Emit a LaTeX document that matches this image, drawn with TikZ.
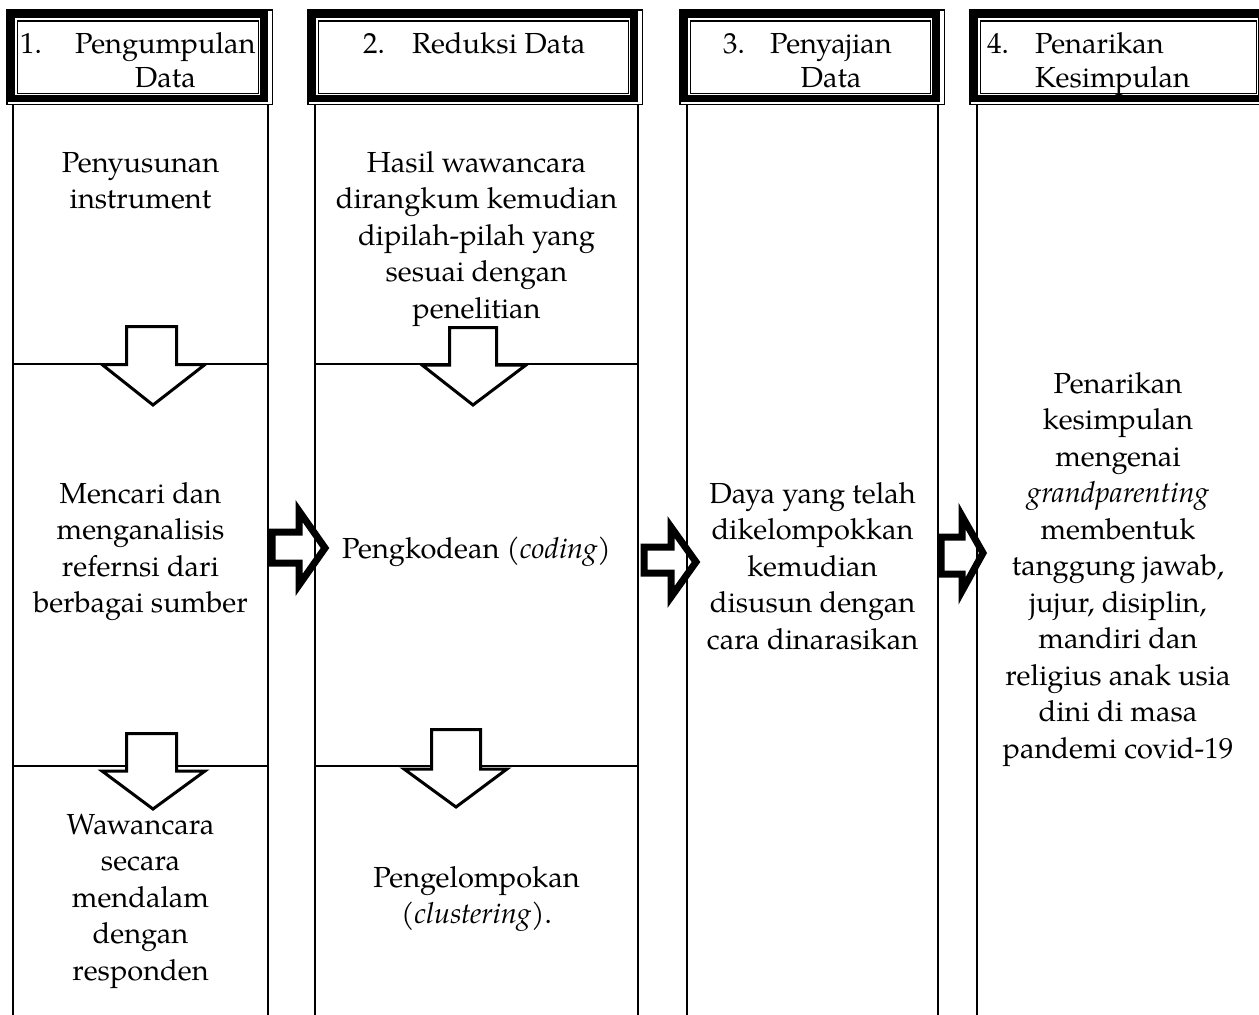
\documentclass[tikz,border=0pt]{standalone}
\usepackage{fontspec}
\setmainfont{TeX Gyre Pagella}
\usepackage{array}
\begin{document}
\begin{tikzpicture}[x=1pt,y=-1pt,
  txt/.style={font=\fontsize{29}{36.5}\selectfont, align=center, inner sep=0pt, anchor=base},
  hdr/.style={font=\fontsize{29}{34.5}\selectfont, inner sep=0pt, anchor=base west},
  rule/.style={line width=2pt},
  downarrow/.style={draw=black, fill=white, line width=3pt, line join=miter},
  rightarrow/.style={draw=black, fill=white, line width=7pt, line join=miter}]
\useasboundingbox (0,0) rectangle (1259,1015);
\fill[white] (0,0) rectangle (1259,1015);

% horizontal separators
\draw[rule] (13,364) -- (268,364);
\draw[rule] (315,364) -- (638,364);
\draw[rule] (13,766) -- (268,766);
\draw[rule] (315,766) -- (638,766);

% down arrows
\draw[downarrow] (126.5,326.5) -- (176.5,326.5) -- (176.5,364.5) -- (205,364.5) -- (153,405) -- (102,364.5) -- (126.5,364.5) -- cycle;
\draw[downarrow] (126.5,733.5) -- (176.5,733.5) -- (176.5,771) -- (205,771) -- (153,809) -- (102,771) -- (126.5,771) -- cycle;
\draw[downarrow] (449.5,327.5) -- (496.5,327.5) -- (496.5,365) -- (526,365) -- (473,405) -- (422,365) -- (449.5,365) -- cycle;
\draw[downarrow] (431.5,729.5) -- (480.5,729.5) -- (480.5,769) -- (507,769) -- (456,807) -- (404,769) -- (431.5,769) -- cycle;

% right arrows
\draw[rightarrow] (272,532) -- (299,532) -- (299,511) -- (325,548) -- (299,585) -- (299,563) -- (272,563) -- cycle;
\draw[rightarrow] (644,547) -- (671,547) -- (671,527) -- (696,562) -- (671,597) -- (671,573) -- (644,573) -- cycle;
\draw[rightarrow] (941,537) -- (962,537) -- (962,516) -- (983,553) -- (962,591) -- (962,574) -- (941,574) -- cycle;

% column lines
\foreach \x in {13,268,315,638,687,938,977}
  \draw[rule] (\x,104) -- (\x,1015);

% header frames
\foreach \l/\r in {7/268,308/638,680/940,970/1266}{
  \draw[line width=1.5pt] (\l,10) rectangle (\r+4.5,104.5);
  \fill[black] (\l,10) rectangle (\r,102);
  \fill[white] (\l+8,18) rectangle (\r-8,95);
  \draw[line width=1.5pt] (\l+10.5,21) rectangle (\r-9.5,93.5);
}

% header texts
\node[hdr] (h1) at (20,53) {\begin{tabular}[t]{@{}p{55pt}@{}c@{}}1. & Pengumpulan\\ & Data\end{tabular}};
\node[hdr] (h2) at (363,53) {\begin{tabular}[t]{@{}p{49pt}@{}c@{}}2. & Reduksi Data\end{tabular}};
\node[hdr] (h3) at (723,53) {\begin{tabular}[t]{@{}p{47pt}@{}c@{}}3. & Penyajian\\ & Data\end{tabular}};
\node[hdr] (h4) at (987,53) {\begin{tabular}[t]{@{}p{48pt}@{}l@{}}4. & Penarikan\\ & Kesimpulan\end{tabular}};

% body texts (anchor = baseline of last line)
\node[txt] (c1a) at (140.5,208.5) {Penyusunan\\instrument};
\node[txt] (c1b) at (140.5,612.5) {Mencari dan\\menganalisis\\refernsi dari\\berbagai sumber};
\node[txt] (c1c) at (140.5,980) {Wawancara\\secara\\mendalam\\dengan\\responden};

\node[txt] (c2a) at (476.5,318) {Hasil wawancara\\dirangkum kemudian\\dipilah-pilah yang\\sesuai dengan\\penelitian};
\node[txt] (c2b) at (476.5,558) {Pengkodean (\textit{coding})};
\node[txt] (c2c) at (476.5,923.5) {Pengelompokan\\(\textit{clustering}).};

\node[txt] (c3a) at (812.5,649) {Daya yang telah\\dikelompokkan\\kemudian\\disusun dengan\\cara dinarasikan};

\node[txt] (c4a) at (1118,758) {Penarikan\\kesimpulan\\mengenai\\\textit{grandparenting}\\membentuk\\tanggung jawab,\\jujur, disiplin,\\mandiri dan\\religius anak usia\\dini di masa\\pandemi covid-19};
\end{tikzpicture}
\end{document}
